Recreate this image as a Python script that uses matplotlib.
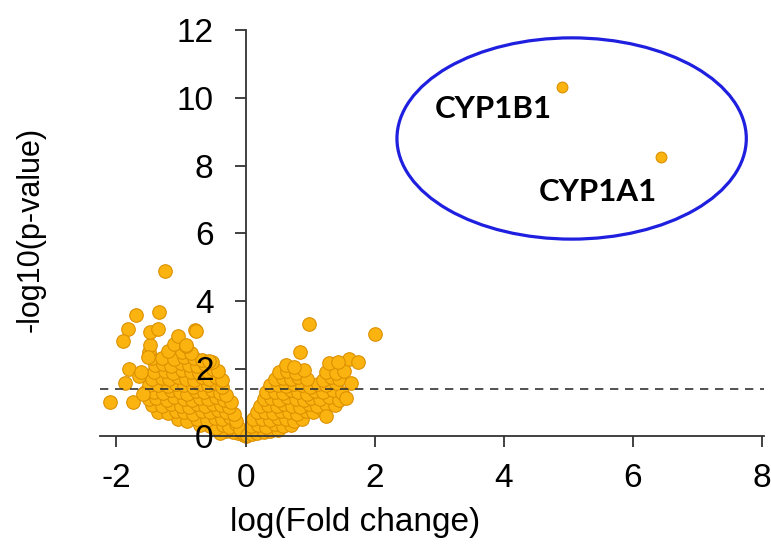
import matplotlib.pyplot as plt
from matplotlib.patches import Ellipse

# log fold change / -log10 p for the bulk of genes
fc_left = [-0.05, -0.12, -0.2, -0.3, -0.4, -0.02, 0.0,
           -0.55, -0.45, -0.35, -0.25, -0.15, -0.08, -0.7,
           -1.05, -0.9, -0.75, -0.6, -0.48, -0.36, -0.24, -0.14,
           -1.35, -1.2, -1.08, -0.95, -0.82, -0.68, -0.55, -0.42, -0.3, -0.18,
           -1.45, -1.3, -1.15, -1.0, -0.88, -0.75, -0.62, -0.5, -0.38, -0.25,
           -1.5, -1.38, -1.22, -1.1, -0.96, -0.83, -0.7, -0.58, -0.45, -0.33, -0.22,
           -1.55, -1.42, -1.28, -1.15, -1.02, -0.9, -0.77, -0.64, -0.52, -0.4, -0.3,
           -1.5, -1.35, -1.2, -1.08, -0.95, -0.82, -0.7, -0.58, -0.46, -0.36,
           -1.45, -1.3, -1.18, -1.05, -0.92, -0.8, -0.68, -0.56, -0.45, -0.37,
           -1.42, -1.25, -1.12, -0.98, -0.85, -0.72, -0.6, -0.5, -0.42,
           -1.4, -1.28, -1.15, -1.0, -0.88, -0.75, -0.62, -0.52,
           -1.45, -1.3, -1.1, -0.95, -0.8, -0.68, -0.57,
           -1.5, -1.2, -0.98, -0.85,
           -1.48, -1.1, -0.92,
           -1.24, -1.69, -1.34, -1.82, -1.90, -1.48, -1.35, -1.05, -0.79, -0.76,
           -0.92, -1.80, -1.87, -1.65, -2.10, -1.74, -1.51, -1.62, -1.58]
p_left = [0.05, 0.1, 0.12, 0.15, 0.08, 0.02, 0.0,
          0.3, 0.25, 0.32, 0.28, 0.35, 0.22, 0.33,
          0.5, 0.45, 0.52, 0.48, 0.55, 0.5, 0.58, 0.45,
          0.72, 0.68, 0.75, 0.7, 0.66, 0.74, 0.7, 0.78, 0.72, 0.65,
          0.92, 0.88, 0.95, 0.9, 0.86, 0.94, 0.9, 0.96, 0.92, 0.85,
          1.1, 1.12, 1.08, 1.15, 1.1, 1.06, 1.14, 1.1, 1.16, 1.08, 1.0,
          1.3, 1.32, 1.28, 1.35, 1.3, 1.26, 1.34, 1.3, 1.36, 1.28, 1.22,
          1.5, 1.52, 1.48, 1.55, 1.5, 1.46, 1.54, 1.5, 1.56, 1.45,
          1.7, 1.72, 1.68, 1.75, 1.7, 1.66, 1.74, 1.7, 1.76, 1.65,
          1.9, 1.92, 1.88, 1.95, 1.9, 1.86, 1.94, 1.98, 1.92,
          2.1, 2.12, 2.08, 2.15, 2.1, 2.06, 2.14, 2.18,
          2.3, 2.32, 2.28, 2.35, 2.3, 2.26, 2.22,
          2.5, 2.52, 2.48, 2.45,
          2.7, 2.72, 2.66,
          4.89, 3.58, 3.67, 3.17, 2.82, 3.09, 3.16, 2.96, 3.14, 3.12,
          2.69, 2.0, 1.58, 1.78, 1.02, 1.02, 2.35, 1.9, 1.25]

fc_right = [0.03, 0.1, 0.18, 0.28, 0.38, 0.5,
            0.08, 0.2, 0.32, 0.45, 0.58, 0.7,
            0.12, 0.25, 0.38, 0.5, 0.62, 0.75, 0.88,
            0.18, 0.3, 0.42, 0.55, 0.68, 0.8, 0.93, 1.05, 1.2,
            0.22, 0.35, 0.48, 0.6, 0.72, 0.85, 0.98, 1.1, 1.25, 1.38,
            0.28, 0.4, 0.52, 0.65, 0.78, 0.9, 1.02, 1.15, 1.3, 1.45,
            0.32, 0.45, 0.58, 0.7, 0.82, 0.95, 1.08, 1.2, 1.35, 1.5,
            0.38, 0.5, 0.62, 0.75, 0.88, 1.0, 1.12, 1.25, 1.4,
            0.45, 0.58, 0.7, 0.82, 0.95, 1.2, 1.32, 1.45,
            0.52, 0.65, 0.78, 0.9, 1.25, 1.4, 1.52,
            0.62, 0.75, 1.3,
            0.98, 2.0, 0.85, 1.61, 1.74, 1.43, 1.56, 1.24, 1.63]
p_right = [0.02, 0.05, 0.1, 0.12, 0.15, 0.18,
           0.3, 0.32, 0.28, 0.35, 0.3, 0.33,
           0.5, 0.52, 0.48, 0.55, 0.5, 0.46, 0.52,
           0.7, 0.72, 0.68, 0.75, 0.7, 0.66, 0.74, 0.7, 0.76,
           0.9, 0.92, 0.88, 0.95, 0.9, 0.86, 0.94, 0.9, 0.96, 0.92,
           1.1, 1.12, 1.08, 1.15, 1.1, 1.06, 1.14, 1.1, 1.16, 1.08,
           1.3, 1.32, 1.28, 1.35, 1.3, 1.26, 1.34, 1.3, 1.36, 1.28,
           1.5, 1.52, 1.48, 1.55, 1.5, 1.46, 1.54, 1.5, 1.56,
           1.7, 1.72, 1.68, 1.75, 1.7, 1.66, 1.74, 1.7,
           1.9, 1.92, 1.88, 1.95, 1.9, 1.86, 1.94,
           2.1, 2.05, 2.15,
           3.33, 3.01, 2.49, 2.27, 2.2, 2.2, 1.13, 0.59, 1.56]

genes = ["CYP1B1", "CYP1A1"]
fc_top = [4.90, 6.43]
p_top = [10.33, 8.25]

cutoff = 1.38

plt.rcParams['font.family'] = ['Liberation Sans', 'DejaVu Sans']
plt.rcParams['axes.unicode_minus'] = False

fig = plt.figure(figsize=(7.71, 5.5), dpi=100)
ax = fig.add_axes([0.130, 0.207, 0.861, 0.738])
ax.set_axisbelow(False)  # tick labels drawn over the points

fill = '#FBB40F'
edge = '#DC9000'
ax.scatter(fc_left + fc_right, p_left + p_right, s=95, c=fill, edgecolors=edge,
           linewidths=0.8, zorder=2, clip_on=False)
ax.scatter(fc_top, p_top, s=60, c=fill, edgecolors=edge, linewidths=0.8,
           zorder=2, clip_on=False)

ax.axhline(cutoff, color='#333333', lw=1.2, ls=(0, (5, 4)), zorder=4)

# gene labels, baseline just under each point
ax.text(4.745, 9.41, genes[0], ha='right', va='baseline',
        fontsize=22.5, fontweight='bold', family='Lato')
ax.text(6.37, 6.95, genes[1], ha='right', va='baseline',
        fontsize=22.5, fontweight='bold', family='Lato')

ax.add_patch(Ellipse((5.05, 8.8), 5.41, 5.95, fill=False, ec='#1F1FE0',
                     lw=2.3, clip_on=False))

ax.set_xlim(-2.25, 8.03)
ax.set_ylim(0, 12)
ax.set_xticks([-2, 0, 2, 4, 6, 8])
ax.set_yticks([0, 2, 4, 6, 8, 10, 12])
ax.spines['left'].set_position(('data', 0))
ax.spines['top'].set_visible(False)
ax.spines['right'].set_visible(False)
for s in ['left', 'bottom']:
    ax.spines[s].set_color('#333333')
    ax.spines[s].set_linewidth(1.3)
ax.tick_params(length=8, width=1.3, color='#333333', labelsize=24)
ax.tick_params(axis='x', pad=11)
ax.tick_params(axis='y', pad=15)

ax.set_xlabel('log(Fold change)', fontsize=24)
ax.set_ylabel('-log10(p-value)', fontsize=22)
ax.xaxis.set_label_coords(0.384, -0.175)
ax.yaxis.set_label_coords(-0.083, 0.51)

fig.savefig('out.png', dpi=100)
